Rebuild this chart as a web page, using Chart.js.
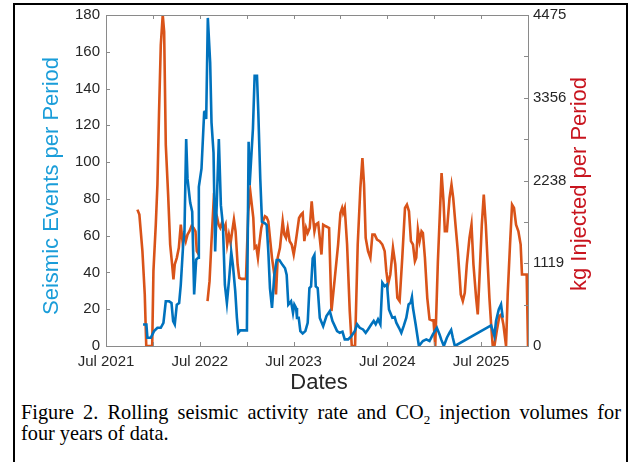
<!DOCTYPE html>
<html>
<head>
<meta charset="utf-8">
<script src="https://cdn.jsdelivr.net/npm/chart.js@4/dist/chart.umd.min.js"></script>
<style>
  html, body { margin: 0; padding: 0; background: #fff; }
  #wrap { position: relative; width: 632px; height: 462px; overflow: hidden; }
  #frame { position: absolute; left: 13px; top: 3px; width: 611px; height: 470px; border: 2px solid #000; }
  #plot { position: absolute; left: 0; top: 0; }
  #caption { position: absolute; left: 21px; top: 402px; width: 600px; font-family: "Liberation Serif", "Times New Roman", serif; font-size: 20.3px; line-height: 21px; color: #000; }
  #caption .l1 { text-align: justify; text-align-last: justify; white-space: nowrap; }
</style>
</head>
<body>
<div id="wrap">
  <div id="frame"></div>
  <canvas id="plot" width="632" height="400"></canvas>
  <div id="caption">
    <div class="l1">Figure 2. Rolling seismic activity rate and CO<sub style="font-size:13px;line-height:0">2</sub> injection volumes for</div>
    <div>four years of data.</div>
  </div>
</div>
<script>
// x = months since Jul 2021
var xTickLabels = ['Jul 2021', 'Jul 2022', 'Jul 2023', 'Jul 2024', 'Jul 2025'];
var rightTickLabels = ['0', '1119', '2238', '3356', '4475'];

// seismic events per period (blue, left axis)
var seismicMonths = [4.74,5.17,5.30,5.73,6.15,6.58,7.01,7.35,7.65,8.08,8.38,8.59,8.80,9.06,9.36,9.57,9.87,10.04,10.26,10.43,
  10.77,11.03,11.28,11.54,11.79,11.88,12.22,12.56,12.65,12.82,13.03,13.33,13.50,13.76,13.97,14.19,14.44,14.70,14.96,15.21,
  15.47,15.77,16.03,16.24,16.54,16.75,16.92,17.18,18.03,18.25,18.38,18.55,18.80,19.02,19.32,19.49,19.74,19.96,20.34,20.56,
  20.77,20.98,21.24,21.54,21.84,22.18,22.61,22.91,23.12,23.33,23.68,23.93,24.10,24.32,24.44,24.66,24.87,25.17,25.51,25.81,
  26.03,26.24,26.45,26.67,26.84,27.09,27.36,27.79,28.21,28.64,28.98,29.28,29.57,29.91,30.26,30.55,30.98,31.40,31.83,32.13,
  32.47,32.89,33.23,33.53,33.96,34.26,34.51,34.81,35.11,35.36,35.66,35.96,36.21,36.38,36.64,36.94,37.15,37.49,37.79,38.09,
  38.43,38.72,38.98,39.15,39.28,39.62,40.04,40.55,40.98,41.40,41.83,42.34,42.68,42.89,43.23,43.62,43.96,44.17,44.38,44.64,
  49.28,49.70,49.91,50.26,50.55,50.77];
var seismicEvents = [11.7,11.7,4.5,4.5,8.1,9.9,9.9,12.6,24.3,24.3,23.4,13.5,11.7,22.5,23.4,33.3,55,62,112.6,91,
  78,73,28,47,48,86.5,96.4,127,128,123.4,178.4,154,121.6,105,51.4,80,112.6,76.6,65.8,33.3,
  23.4,37,51,44,29.7,15.3,7.2,8.5,8.5,111,87.4,100,118,147,147,127,91,67.6,66.7,65.8,
  51.4,31.5,20.7,38.7,46.8,46.8,44,42.3,38.7,22.5,24.3,18,22.5,20.7,15.3,15.3,8.1,6.8,8.1,12.6,
  31.5,32.4,47.7,49.5,32.4,31.5,15.3,10.8,16.3,19,13.6,10.8,8.1,7.2,7.8,3.6,3.6,5.4,8.1,11.8,
  9.9,9.0,7.2,9.0,11.8,13.6,11.8,14.5,11.8,34.4,32.5,33.5,19.9,18.1,15.4,15.7,12.7,9.9,7.2,10.8,
  15.4,22.6,23.5,26.6,20.8,11.8,0,2.7,3.6,2.7,6.3,9.9,6.3,3.6,0,4.5,7.2,8.7,4.5,0,
  11.2,5.4,13.6,19.9,22.6,15.4];

// kg injected per period (orange, right axis); null = no data
var injMonths = [4.02,4.27,4.66,4.96,5.15,5.91,6.07,6.37,6.58,6.79,7.01,7.26,7.44,7.65,7.95,8.21,8.46,8.63,8.80,9.06,
  9.32,9.57,9.79,10.00,10.21,10.43,10.68,10.94,11.20,11.45,11.62,11.88,12.40,12.99,13.25,13.50,13.76,13.97,14.19,14.40,
  14.62,14.83,15.04,15.30,15.51,15.73,15.94,16.15,16.37,16.58,16.84,17.05,17.35,17.91,18.21,18.46,18.63,18.85,19.02,19.23,
  19.44,19.66,19.87,20.09,20.34,20.56,20.77,20.98,21.24,21.54,21.75,21.97,22.26,22.61,22.82,23.03,23.25,23.50,23.76,24.02,
  24.23,24.44,24.70,24.96,25.17,25.38,25.60,25.81,26.07,26.32,26.50,26.67,26.84,27.15,27.57,27.79,28.13,28.55,28.85,29.28,
  29.70,30.00,30.21,30.34,30.55,30.85,31.19,31.45,31.87,32.21,32.55,32.81,33.02,33.23,33.53,33.83,34.09,34.38,34.68,35.02,
  35.36,35.66,35.87,36.09,36.38,36.72,37.02,37.28,37.57,37.91,38.26,38.51,38.77,39.02,39.28,39.53,39.70,39.91,40.13,40.38,
  40.55,40.81,41.11,41.40,41.74,41.91,42.13,42.47,42.77,42.94,43.19,43.36,43.62,43.96,44.21,44.43,44.72,45.02,45.23,45.40,
  45.66,45.91,46.17,46.51,46.77,47.02,47.36,47.57,47.79,48.09,48.34,48.60,48.85,49.06,49.28,49.49,49.70,50.00,50.34,50.60,
  50.85,51.19,51.40,51.70,51.96,52.21,52.47,52.77,53.06,53.23,53.83,54.00];
var injKg = [1844,1776,1282,697,0,0,1012,1641,2181,3170,4070,4475,4250,2720,2046,1372,1102,899,1102,1192,
  1327,1641,1417,1506,1417,1506,1551,1619,1596,1551,1282,1237,null,607,877,1417,1934,1821,1754,1641,
  1596,1664,1574,1641,1372,1506,1394,1551,1709,1551,1102,922,908,908,1821,2091,1934,1731,1327,1349,
  1192,1417,1596,1686,1754,1740,1686,1462,1192,967,697,1192,1327,1686,1506,1462,1596,1417,1372,1237,
  1372,1529,1731,1776,1799,1417,1596,1529,1596,1956,1731,1551,1641,1664,1237,1641,1619,1596,472,922,
  1372,1799,1866,1799,1866,1372,472,0,0,1372,2136,2541,2181,1462,1282,1192,1506,1506,1439,1417,
  1372,1282,1012,832,967,1327,1102,652,607,1192,1866,1911,1821,1417,1372,1147,1192,1574,1417,1551,
  1529,1192,652,360,346,346,0,1147,1911,2338,1956,1551,1551,2001,2181,2001,1641,1282,967,697,
  607,719,1102,1462,1641,1102,652,427,922,1641,2046,1641,1102,652,292,0,0,202,405,427,
  292,0,697,1372,1911,1866,1641,1551,1372,967,967,0];

var axisFont = { family: '"Liberation Sans", Arial, sans-serif', size: 15 };
var tickColor = '#262626';
var boxColor = '#8a8a8a';

// box + inward tick marks + axis titles, drawn on top
var matlabFrame = {
  id: 'matlabFrame',
  afterDraw: function(chart) {
    var ctx = chart.ctx, a = chart.chartArea;
    var x = chart.scales.x, y = chart.scales.y, y2 = chart.scales.y2;
    ctx.save();
    ctx.strokeStyle = boxColor;
    ctx.lineWidth = 1;
    ctx.strokeRect(Math.round(a.left) + 0.5, Math.round(a.top) + 0.5, Math.round(a.right - a.left), Math.round(a.bottom - a.top));
    ctx.beginPath();
    x.ticks.forEach(function(t) {
      var px = Math.round(x.getPixelForValue(t.value)) + 0.5;
      ctx.moveTo(px, a.bottom); ctx.lineTo(px, a.bottom - 4);
      ctx.moveTo(px, a.top); ctx.lineTo(px, a.top + 4);
    });
    y.ticks.forEach(function(t) {
      var py = Math.round(y.getPixelForValue(t.value)) + 0.5;
      ctx.moveTo(a.left, py); ctx.lineTo(a.left + 4, py);
    });
    y2.ticks.forEach(function(t) {
      var py = Math.round(y2.getPixelForValue(t.value)) + 0.5;
      ctx.moveTo(a.right, py); ctx.lineTo(a.right - 4, py);
    });
    ctx.stroke();

    ctx.font = '22px "Liberation Sans", Arial, sans-serif';
    ctx.textAlign = 'center';
    ctx.textBaseline = 'middle';
    ctx.fillStyle = '#1a9dd9';
    ctx.save();
    ctx.translate(52, 186);
    ctx.rotate(-Math.PI / 2);
    ctx.fillText('Seismic Events per Period', 0, 0);
    ctx.restore();
    ctx.fillStyle = '#c8141e';
    ctx.save();
    ctx.translate(580, 184);
    ctx.rotate(-Math.PI / 2);
    ctx.fillText('kg Injected per Period', 0, 0);
    ctx.restore();
    ctx.fillStyle = tickColor;
    ctx.fillText('Dates', 319, 383);
    ctx.restore();
  }
};

function toPoints(xs, ys) {
  return xs.map(function(v, i) { return { x: v, y: ys[i] }; });
}

new Chart(document.getElementById('plot'), {
  type: 'line',
  data: {
    datasets: [{
      label: 'Seismic events',
      data: toPoints(seismicMonths, seismicEvents),
      yAxisID: 'y',
      borderColor: '#0072bd',
      borderWidth: 2.6,
      pointRadius: 0,
      tension: 0
    }, {
      label: 'kg injected',
      data: toPoints(injMonths, injKg),
      yAxisID: 'y2',
      borderColor: '#d95319',
      borderWidth: 2.6,
      pointRadius: 0,
      tension: 0,
      spanGaps: false
    }]
  },
  options: {
    responsive: false,
    devicePixelRatio: 1,
    animation: false,
    layout: { padding: { top: 13, left: 0, right: 0, bottom: 0 } },
    plugins: { legend: { display: false }, tooltip: { enabled: false } },
    scales: {
      x: {
        type: 'linear',
        min: 0,
        max: 54,
        grid: { display: false, drawTicks: false },
        border: { display: false },
        ticks: {
          stepSize: 6,
          autoSkip: false,
          maxRotation: 0,
          padding: 7,
          color: tickColor,
          font: axisFont,
          callback: function(v) { return v % 12 === 0 ? xTickLabels[v / 12] : ''; }
        },
        afterFit: function(s) { s.height = 54; }
      },
      y: {
        position: 'left',
        min: 0,
        max: 180,
        grid: { display: false, drawTicks: false },
        border: { display: false },
        ticks: { stepSize: 20, padding: 6, color: tickColor, font: axisFont },
        afterFit: function(s) { s.width = 106; }
      },
      y2: {
        position: 'right',
        min: 0,
        max: 4475,
        grid: { display: false, drawTicks: false },
        border: { display: false },
        ticks: {
          stepSize: 559.375,
          padding: 5,
          color: tickColor,
          font: axisFont,
          callback: function(v, i) { return i % 2 === 0 ? rightTickLabels[i / 2] : ''; }
        },
        afterFit: function(s) { s.width = 104; }
      }
    }
  },
  plugins: [matlabFrame]
});
</script>
</body>
</html>
